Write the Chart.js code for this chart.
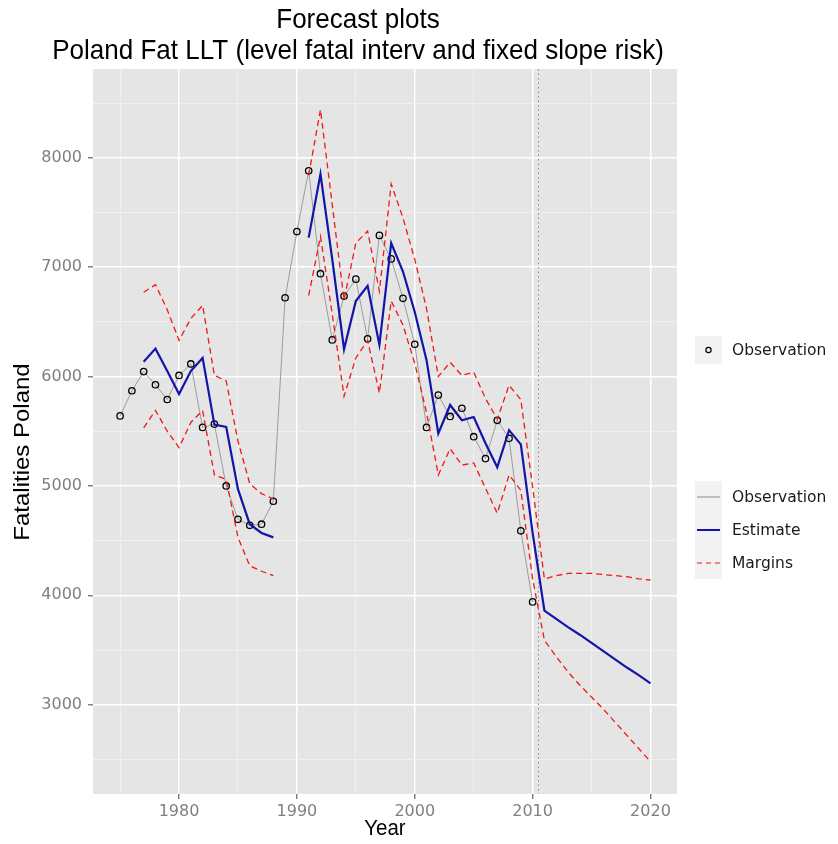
<!DOCTYPE html>
<html><head><meta charset="utf-8">
<script src="https://cdn.jsdelivr.net/npm/chart.js@4.4.0/dist/chart.umd.min.js"></script>
<style>html,body{margin:0;padding:0;background:#fff;}</style>
</head><body>
<canvas id="c" width="838" height="844"></canvas>
<script>
const titleLines = ["Forecast plots", "Poland Fat LLT (level fatal interv and fixed slope risk)"];
const xTitle = "Year";
const yTitle = "Fatalities Poland";
const xMajorTicks = [1980, 1990, 2000, 2010, 2020];
const xMinorTicks = [1975, 1985, 1995, 2005, 2015];
const yMajorTicks = [3000, 4000, 5000, 6000, 7000, 8000];
const yMinorTicks = [2500, 3500, 4500, 5500, 6500, 7500, 8500];
const forecastStart = 2010.5;

const obsYears = [1975,1976,1977,1978,1979,1980,1981,1982,1983,1984,1985,1986,1987,1988,1989,1990,1991,1992,1993,1994,1995,1996,1997,1998,1999,2000,2001,2002,2003,2004,2005,2006,2007,2008,2009,2010];
const observed = [5640,5870,6045,5925,5790,6010,6115,5535,5565,5000,4695,4640,4650,4860,6720,7325,7880,6940,6335,6735,6890,6345,7290,7075,6715,6295,5535,5830,5635,5710,5450,5250,5600,5435,4590,3940];

const fcYears = [1977,1978,1979,1980,1981,1982,1983,1984,1985,1986,1987,1988,1989,1990,1991,1992,1993,1994,1995,1996,1997,1998,1999,2000,2001,2002,2003,2004,2005,2006,2007,2008,2009,2010,2011,2012,2013,2014,2015,2016,2017,2018,2019,2020];
const estimate = [6135,6255,6050,5840,6050,6170,5560,5540,4970,4650,4570,4530,null,null,7270,7850,7070,6250,6690,6830,6290,7220,6960,6590,6150,5480,5740,5600,5630,5390,5170,5510,5380,4570,3860,3785,3710,3640,3565,3490,3415,3340,3270,3195];
const upperMargin = [6770,6840,6610,6330,6530,6650,6010,5960,5410,5020,4930,4880,null,null,7840,8440,7570,6700,7220,7330,6780,7760,7450,7070,6620,6000,6130,6010,6040,5800,5610,5920,5790,4990,4150,4180,4200,4200,4200,4190,4180,4170,4150,4140];
const lowerMargin = [5530,5690,5500,5350,5580,5690,5100,5060,4530,4270,4220,4180,null,null,6740,7280,6570,5820,6170,6330,5850,6690,6470,6120,5670,5100,5340,5190,5210,4980,4750,5100,4960,4150,3590,3440,3300,3180,3070,2960,2840,2720,2600,2480];

const pts = (xs, ys) => xs.map((x, i) => ({x: x, y: ys[i]}));

const GREY_LINE = '#9c9c9c';
const BLUE = '#1414a8';
const RED = '#f01818';
const TICK_GREY = '#808080';
const SQUEEZE = 0.93;

function squeezedText(ctx, text, x, y) {
  ctx.save();
  ctx.translate(x, y);
  ctx.scale(SQUEEZE, 1);
  ctx.fillText(text, 0, 0);
  ctx.restore();
}

const deco = {
  id: 'deco',
  beforeDraw(chart) {
    const {ctx, chartArea: a} = chart;
    ctx.save();
    ctx.fillStyle = '#ffffff';
    ctx.fillRect(0, 0, chart.width, chart.height);
    ctx.fillStyle = '#E5E5E5';
    ctx.fillRect(a.left, a.top, a.right - a.left, a.bottom - a.top);
    ctx.restore();
  },
  beforeDatasetsDraw(chart) {
    const {ctx, chartArea: a} = chart;
    const x = chart.scales.x.getPixelForValue(forecastStart);
    ctx.save();
    ctx.strokeStyle = '#8c8c8c';
    ctx.lineWidth = 1;
    ctx.setLineDash([1.5, 3]);
    ctx.beginPath();
    ctx.moveTo(x, a.top);
    ctx.lineTo(x, a.bottom);
    ctx.stroke();
    ctx.restore();
  },
  afterDraw(chart) {
    const {ctx, chartArea: a} = chart;
    ctx.save();
    ctx.fillStyle = '#000';
    ctx.textAlign = 'center';
    ctx.textBaseline = 'middle';
    ctx.font = '28px "Liberation Sans", Arial, sans-serif';
    squeezedText(ctx, titleLines[0], 358, 20);
    squeezedText(ctx, titleLines[1], 358, 51);
    ctx.font = '22px "Liberation Sans", Arial, sans-serif';
    squeezedText(ctx, xTitle, (a.left + a.right) / 2, 829);
    ctx.save();
    ctx.translate(23, 452);
    ctx.rotate(-Math.PI / 2);
    ctx.font = '24px "Liberation Sans", Arial, sans-serif';
    ctx.scale(1, SQUEEZE);
    ctx.fillText(yTitle, 0, 0);
    ctx.restore();

    // legend 1 : points
    const kx = 695, kw = 27;
    ctx.fillStyle = '#F2F2F2';
    ctx.fillRect(kx, 336, kw, 28);
    ctx.strokeStyle = '#000';
    ctx.lineWidth = 1.2;
    ctx.beginPath();
    ctx.arc(kx + kw / 2, 350, 2.6, 0, Math.PI * 2);
    ctx.stroke();
    ctx.fillStyle = '#1a1a1a';
    ctx.textAlign = 'left';
    ctx.font = '15.5px "DejaVu Sans", Verdana, sans-serif';
    ctx.fillText('Observation', 732, 351);

    // legend 2 : lines
    ctx.fillStyle = '#F2F2F2';
    ctx.fillRect(kx, 481, kw, 98);
    const items = [
      {label: 'Observation', color: GREY_LINE, w: 1.2, dash: [], y: 497},
      {label: 'Estimate', color: BLUE, w: 2, dash: [], y: 530},
      {label: 'Margins', color: RED, w: 1.2, dash: [5, 4], y: 563}
    ];
    items.forEach(it => {
      ctx.strokeStyle = it.color;
      ctx.lineWidth = it.w;
      ctx.setLineDash(it.dash);
      ctx.beginPath();
      ctx.moveTo(kx + 2, it.y);
      ctx.lineTo(kx + kw - 2, it.y);
      ctx.stroke();
      ctx.setLineDash([]);
      ctx.fillStyle = '#1a1a1a';
      ctx.fillText(it.label, 732, it.y + 1);
    });
    ctx.restore();
  }
};

const isIn = (arr, v) => arr.some(t => Math.abs(t - v) < 1e-6);

new Chart(document.getElementById('c'), {
  type: 'line',
  data: {
    datasets: [
      {label: 'Upper margin', data: pts(fcYears, upperMargin), borderColor: RED, borderWidth: 1.3, borderDash: [6, 4], pointRadius: 0, spanGaps: false, tension: 0, fill: false},
      {label: 'Lower margin', data: pts(fcYears, lowerMargin), borderColor: RED, borderWidth: 1.3, borderDash: [6, 4], pointRadius: 0, spanGaps: false, tension: 0, fill: false},
      {label: 'Estimate', data: pts(fcYears, estimate), borderColor: BLUE, borderWidth: 2.2, pointRadius: 0, spanGaps: false, tension: 0, fill: false},
      {label: 'Observation', data: pts(obsYears, observed), borderColor: GREY_LINE, borderWidth: 1, pointRadius: 3.2, pointBorderWidth: 1.3, pointBorderColor: '#000', pointBackgroundColor: 'rgba(0,0,0,0)', tension: 0, fill: false}
    ]
  },
  options: {
    responsive: false,
    animation: false,
    devicePixelRatio: 1,
    layout: {padding: {left: 0, right: 161, top: 69, bottom: 0}},
    plugins: {legend: {display: false}, title: {display: false}, tooltip: {enabled: false}},
    scales: {
      x: {
        type: 'linear',
        min: 1972.7,
        max: 2022.25,
        afterBuildTicks: s => { s.ticks = xMinorTicks.concat(xMajorTicks).sort((p, q) => p - q).map(v => ({value: v})); },
        afterFit: s => { s.height = 50; },
        border: {display: false},
        grid: {
          color: c => isIn(xMajorTicks, c.tick.value) ? '#ffffff' : '#F2F2F2',
          lineWidth: c => isIn(xMajorTicks, c.tick.value) ? 1.5 : 0.8,
          tickColor: c => isIn(xMajorTicks, c.tick.value) ? TICK_GREY : 'rgba(0,0,0,0)',
          tickLength: 5,
          drawTicks: true
        },
        ticks: {
          autoSkip: false, maxRotation: 0, padding: 3,
          color: TICK_GREY,
          font: {family: '"DejaVu Sans", Verdana, sans-serif', size: 16},
          callback: v => isIn(xMajorTicks, v) ? String(v) : ''
        }
      },
      y: {
        type: 'linear',
        min: 2184,
        max: 8811,
        afterBuildTicks: s => { s.ticks = yMinorTicks.concat(yMajorTicks).sort((p, q) => p - q).map(v => ({value: v})); },
        afterFit: s => { s.width = 93; },
        border: {display: false},
        grid: {
          color: c => isIn(yMajorTicks, c.tick.value) ? '#ffffff' : '#F2F2F2',
          lineWidth: c => isIn(yMajorTicks, c.tick.value) ? 1.5 : 0.8,
          tickColor: c => isIn(yMajorTicks, c.tick.value) ? TICK_GREY : 'rgba(0,0,0,0)',
          tickLength: 5,
          drawTicks: true
        },
        ticks: {
          autoSkip: false, padding: 6,
          color: TICK_GREY,
          font: {family: '"DejaVu Sans", Verdana, sans-serif', size: 16},
          callback: v => isIn(yMajorTicks, v) ? String(v) : ''
        }
      }
    }
  },
  plugins: [deco]
});
</script>
</body></html>
